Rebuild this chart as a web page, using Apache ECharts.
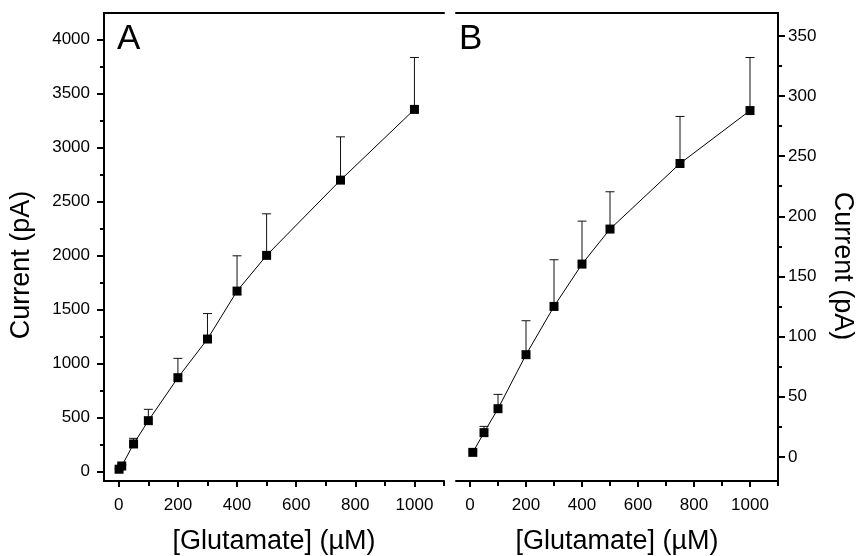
<!DOCTYPE html>
<html>
<head>
<meta charset="utf-8">
<script src="https://cdn.jsdelivr.net/npm/echarts@6/dist/echarts.min.js"></script>
<style>
html,body{margin:0;padding:0;background:#fff;}
#c{width:860px;height:556px;}
</style>
</head>
<body>
<div id="c"></div>
<script>
// Panel A data
const concA = [1, 10, 50, 100, 200, 300, 400, 500, 750, 1000];
const currA = [19, 49, 253, 469, 867, 1225, 1669, 2000, 2697, 3352];
const errA  = [5, 10, 52, 105, 179, 236, 327, 385, 401, 481];
// Panel B data
const concB = [10, 50, 100, 200, 300, 400, 500, 750, 1000];
const currB = [3.8, 20.2, 40.1, 85, 125.1, 160.3, 189.4, 243.9, 287.9];
const errB  = [1, 5.2, 11.9, 28.2, 38.8, 35.7, 31, 39.1, 44.1];
// Ticks
const xTicks = [0, 200, 400, 600, 800, 1000];
const xMinor = [100, 300, 500, 700, 900, 1100];
const yTicksA = [0, 500, 1000, 1500, 2000, 2500, 3000, 3500, 4000];
const yMinorA = [250, 750, 1250, 1750, 2250, 2750, 3250, 3750];
const yTicksB = [0, 50, 100, 150, 200, 250, 300, 350];
const yMinorB = [25, 75, 125, 175, 225, 275, 325];

const FONT = 'Liberation Sans';
const black = '#000';
const fmt = v => String(v);

function majorAxis(base) {
  return Object.assign({
    type: 'value',
    axisLine: { show: true, onZero: false, lineStyle: { color: black, width: 2 } },
    splitLine: { show: false }
  }, base);
}
function minorAxis(base) {
  return Object.assign({
    type: 'value',
    axisLine: { show: false, onZero: false },
    splitLine: { show: false },
    axisLabel: { show: false }
  }, base);
}

const xAxis = [];
const yAxis = [];
[0, 1].forEach(g => {
  xAxis.push(majorAxis({
    gridIndex: g, position: 'bottom', min: -50, max: 1100,
    axisTick: { show: true, inside: false, length: 6, customValues: xTicks, lineStyle: { color: black, width: 2 } },
    axisLabel: { color: black, fontFamily: FONT, fontSize: 17, margin: 16, customValues: xTicks, formatter: fmt }
  }));
  xAxis.push(minorAxis({
    gridIndex: g, position: 'bottom', min: -50, max: 1100,
    axisTick: { show: true, inside: false, length: 5, customValues: xMinor, lineStyle: { color: black, width: 2 } }
  }));
  xAxis.push({
    type: 'value', gridIndex: g, position: 'top', min: -50, max: 1100,
    axisLine: { show: true, onZero: false, lineStyle: { color: black, width: 2 } },
    axisTick: { show: false }, axisLabel: { show: false }, splitLine: { show: false }
  });
});
yAxis.push(majorAxis({
  gridIndex: 0, position: 'left', min: -90, max: 4245,
  axisTick: { show: true, inside: false, length: 7, customValues: yTicksA, lineStyle: { color: black, width: 2 } },
  axisLabel: { color: black, fontFamily: FONT, fontSize: 17, margin: 14, customValues: yTicksA, formatter: fmt }
}));
yAxis.push(minorAxis({
  gridIndex: 0, position: 'left', min: -90, max: 4245,
  axisTick: { show: true, inside: false, length: 4, customValues: yMinorA, lineStyle: { color: black, width: 2 } }
}));
yAxis.push(majorAxis({
  gridIndex: 1, position: 'right', min: -20, max: 369,
  axisTick: { show: true, inside: false, length: 7, customValues: yTicksB, lineStyle: { color: black, width: 2 } },
  axisLabel: { color: black, fontFamily: FONT, fontSize: 17, margin: 10, customValues: yTicksB, formatter: fmt }
}));
yAxis.push(minorAxis({
  gridIndex: 1, position: 'right', min: -20, max: 369,
  axisTick: { show: true, inside: false, length: 4, customValues: yMinorB, lineStyle: { color: black, width: 2 } }
}));

function errRender(params, api) {
  const x = api.value(0), y = api.value(1), t = api.value(2);
  const p0 = api.coord([x, y]);
  const p1 = api.coord([x, t]);
  const h = 4.5;
  return {
    type: 'group',
    children: [
      { type: 'line', shape: { x1: p0[0], y1: p0[1], x2: p1[0], y2: p1[1] }, style: { stroke: '#111', lineWidth: 1 } },
      { type: 'line', shape: { x1: p1[0] - h, y1: p1[1], x2: p1[0] + h, y2: p1[1] }, style: { stroke: '#111', lineWidth: 1 } }
    ]
  };
}

const lineA = concA.map((c, i) => [c, currA[i]]);
const barsA = concA.map((c, i) => [c, currA[i], currA[i] + errA[i]]);
const lineB = concB.map((c, i) => [c, currB[i]]);
const barsB = concB.map((c, i) => [c, currB[i], currB[i] + errB[i]]);

function txt(text, x, y, size, rot, align) {
  return {
    type: 'text', x: x, y: y, rotation: rot || 0,
    style: { text: text, fontFamily: FONT, fontSize: size, fill: black, align: align || 'left', verticalAlign: 'middle' }
  };
}

const option = {
  animation: false,
  backgroundColor: '#fff',
  grid: [
    { left: 104, top: 13, width: 340, height: 468 },
    { left: 456, top: 13, width: 322, height: 468 }
  ],
  xAxis: xAxis,
  yAxis: yAxis,
  series: [
    { type: 'custom', xAxisIndex: 0, yAxisIndex: 0, renderItem: errRender, data: barsA, encode: { x: 0, y: [1, 2] }, z: 1 },
    { type: 'line', xAxisIndex: 0, yAxisIndex: 0, data: lineA, symbol: 'rect', symbolSize: 9,
      lineStyle: { color: black, width: 1 }, itemStyle: { color: black }, z: 2 },
    { type: 'custom', xAxisIndex: 3, yAxisIndex: 2, renderItem: errRender, data: barsB, encode: { x: 0, y: [1, 2] }, z: 1 },
    { type: 'line', xAxisIndex: 3, yAxisIndex: 2, data: lineB, symbol: 'rect', symbolSize: 9,
      lineStyle: { color: black, width: 1 }, itemStyle: { color: black }, z: 2 }
  ],
  graphic: [
    txt('A', 117, 39, 35),
    txt('B', 459, 39, 35),
    txt('[Glutamate] (µM)', 274, 542, 27, 0, 'center'),
    txt('[Glutamate] (µM)', 617, 542, 27, 0, 'center'),
    txt('Current (pA)', 22, 265, 27, Math.PI / 2, 'center'),
    txt('Current (pA)', 842, 266, 27, -Math.PI / 2, 'center')
  ]
};
echarts.init(document.getElementById('c')).setOption(option);
</script>
</body>
</html>
